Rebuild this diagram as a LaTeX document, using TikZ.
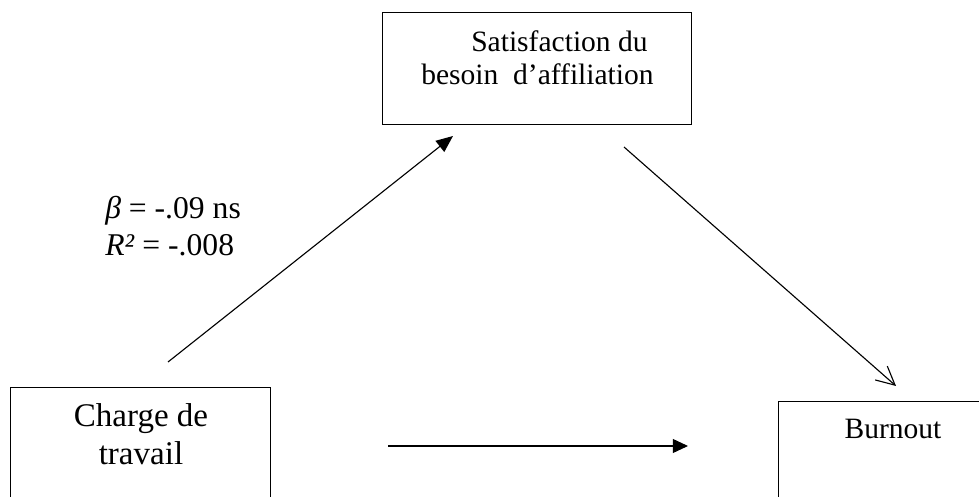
\documentclass[tikz,border=0pt]{standalone}
\usepackage{fontspec}
\setmainfont{Liberation Serif}
\usetikzlibrary{arrows.meta,positioning}

\begin{document}
\begin{tikzpicture}[x=0.025cm, y=-0.025cm,
    box/.style={draw=black, line width=0.7pt, anchor=north west, inner sep=0pt},
    txt/.style={font=\fontsize{21}{24}\selectfont, inner sep=0pt},
    link/.style={line width=0.8pt}]

\useasboundingbox (0,0) rectangle (979,497);

% boxes
\node[box, minimum width=7.725cm, minimum height=2.8cm] (sat) at (382,12) {};
\node[box, minimum width=6.5cm, minimum height=3.5cm] (charge) at (10,387) {};
\node[box, minimum width=5.5cm, minimum height=3.5cm] (burn) at (778,401) {};

% texts in boxes
\node[txt, align=left, anchor=north west] (satT) at (421,30) {\hspace*{1.25cm}Satisfaction du\\besoin\ \ d'affiliation};
\node[txt, font=\fontsize{23.5}{27.5}\selectfont, align=center, anchor=north] (chargeT) at (141,403) {Charge de\\travail};
\node[txt, anchor=north] (burnT) at (893,419) {Burnout};

% coefficients
\node[txt, font=\fontsize{22.5}{26.5}\selectfont, align=left, anchor=north west] (coef) at (105,196) {\textit{β} = -.09 ns\\\textit{R²} = -.008};

% arrow ends
\coordinate (c1) at (168,362);
\coordinate (s1) at (453,136);
\coordinate (s2) at (624,147);
\coordinate (b2) at (896,386);
\coordinate (c3) at (388,446);
\coordinate (b3) at (688,446);

\draw[link, -{Triangle[length=0.42cm,width=0.35cm]}] (c1) -- (s1);
\draw[link, -{Straight Barb[length=0.46cm,width=0.46cm]}] (s2) -- (b2);
\draw[link, -{Triangle[length=0.38cm,width=0.35cm]}] (c3) -- (b3);

\end{tikzpicture}
\end{document}
